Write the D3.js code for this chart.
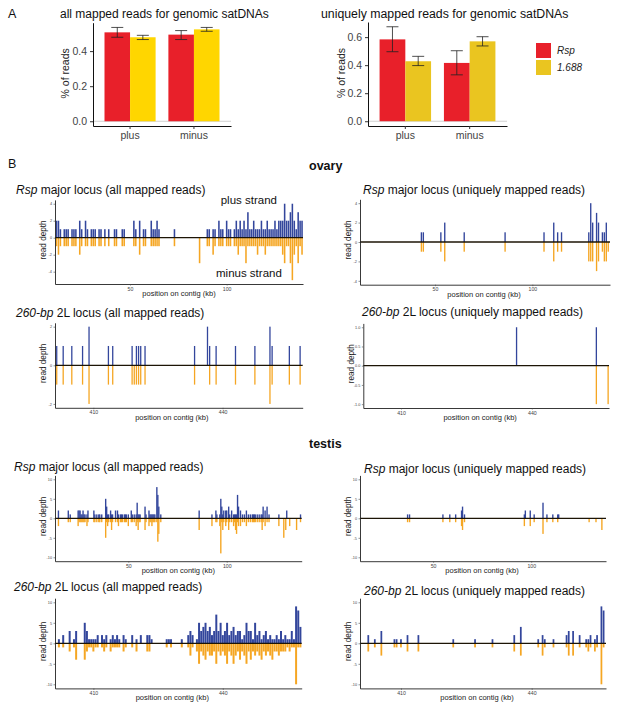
<!DOCTYPE html>
<html>
<head>
<meta charset="utf-8">
<script src="https://cdn.jsdelivr.net/npm/d3@7"></script>
<style>
body { margin: 0; background: #fff; }
</style>
</head>
<body>
<div id="chart-area"></div>
<script>
// ---- panel A data ----
var strands = ["plus", "minus"];
var satNames = ["Rsp", "1.688"];

var allRspMean = [0.507, 0.494];
var allRspLow = [0.479, 0.466];
var allRspHigh = [0.535, 0.517];
var all1688Mean = [0.479, 0.524];
var all1688Low = [0.466, 0.513];
var all1688High = [0.490, 0.535];

var uniqRspMean = [0.584, 0.416];
var uniqRspLow = [0.496, 0.331];
var uniqRspHigh = [0.674, 0.503];
var uniq1688Mean = [0.428, 0.570];
var uniq1688Low = [0.397, 0.537];
var uniq1688High = [0.463, 0.603];

var allPctTicks = [0, 0.2, 0.4];
var uniqPctTicks = [0, 0.2, 0.4, 0.6];

// ---- panel B tick values ----
var rspKbTicks = [50, 100];
var bp260KbTicks = [410, 440];
var ovaryRspDepthTicks = [-4, -2, 0, 2, 4];
var ovary260AllDepthTicks = [-2, 0, 2];
var ovary260UniqDepthTicks = [-1, -0.5, 0, 0.5, 1];
var testisDepthTicks = [-10, -5, 0, 5, 10];

// ---- panel B read depth (position in kb, plus strand, minus strand) ----
var ovRspAllPos = [12,13,14,16,17,18,20,21,22,24,25,27,28,30,31,32,34,35,37,39,42,43,46,47,52,53,55,57,58,61,62,63,64,65,73,86,90,91,93,94,96,97,98,100,101,102,
  104,105,106,107,108,109,110,111,112,113,114,115,116,117,118,119,120,121,122,123,124,125,126,127,128,129,130,131,132,133,134,135,136,137,138,139];
var ovRspAllPlus = [2,2,1,1,1,1,1,1,1,2,1,2,1,1,1,1,1,1,1,1,1,1,1,1,2,1,2,1,1,2,1,1,2,1,1,0,1,1,1,1,2,1,1,2,1,1,
  1,2,1,2,1,2,1,3,1,1,2,1,1,1,2,1,1,2,1,1,1,2,1,2,2,2,4,2,2,3,4,2,1,3,2,2];
var ovRspAllMinus = [-1,-2,-1,-1,-1,-1,-1,-1,-1,-2,-1,-1,-1,-1,-1,-1,-1,-1,-1,-1,-1,-1,-1,-1,-1,-1,-2,-1,-1,-1,-1,-1,-1,-1,-1,-3,-1,-1,-2,-1,-1,-1,-1,-1,-1,-1,
  -1,-1,-2,-1,-1,-1,-3,-1,-1,-1,-1,-1,-2,-1,-1,-1,-2,-1,-1,-1,-1,-1,-1,-1,-1,-2,-3,-1,-1,-3,-5,-2,-1,-3,-1,-2];

var ovRspUniqPos = [43,44,53,55,65,86,106,111,113,115,129,130,131,133,134,136,137,138,139];
var ovRspUniqPlus = [1,1,1,2,1,1,1,2,1,1,1,4,2,3,2,1,1,2,0];
var ovRspUniqMinus = [-1,-1,-1,-2,-1,-1,-1,-2,-1,-1,-2,-2,-2,-3,-2,-1,-2,-2,-1];

var ov260AllPos = [401.5,403,405,407.5,409,413.5,414.5,419,419.5,420,420.5,421,422,433.5,436.5,437,438.5,443,447.5,451,451.5,455.5,458];
var ov260AllPlus = [1,1,1,1,2,1,1,1,0,1,1,1,1,1,2,1,1,1,1,2,1,1,1];
var ov260AllMinus = [-1,-1,-1,-1,-2,-1,-1,-1,-1,-1,-1,-1,-1,-1,0,-1,-1,-1,-1,-2,-1,-1,-1];

var ov260UniqPos = [436.5, 454.8, 457.5];
var ov260UniqPlus = [1, 1, 0];
var ov260UniqMinus = [0, -1, -1];

var teRspAllPos = [14.5,19.5,20.5,24.5,25,25.5,26,26.5,27,27.5, 28,29,29.5,32.5,33,34,35,35.5,36.5,38.5,
  39,39.5,40,41,41.5,42,43.5,44.5,45,46, 46.5,47,48,48.5,49,50,51.5,52,53,54,
  54.5,55,55.5,56,58.5,59,60.5,61,61.5,62, 62.5,63,63.5,64.5,65,65.5,66.5,86,92.5,94.5,
  95,96.5,97,97.5,98,98.5,99.5,100,101,101.5, 102.5,103.5,104,104.5,105,105.5,106,107,108,109,
  110,111,112,113,113.5,114,114.5,115.5,116.5,117.5, 118,118.5,119.5,120.5,121.5,126.5,129,130,130.5,132,
  135.5,137.5];
var teRspAllPlus = [2,2,1,2,2,2,1,1,2,1, 1,1,2,2,1,1,1,1,1,5, 3,1,1,2,1,1,2,2,1,1, 1,1,1,1,1,1,2,1,1,1,
  4,1,1,1,3,1,2,1,1,1, 1,1,1,8,6,3,1,2,1,2, 1,1,5,3,1,2,2,2,3,1, 2,1,1,1,1,6,3,2,1,1,
  2,1,1,1,1,1,1,1,1,1, 1,3,2,3,1,1,0,0,2,0, 0,1];
var teRspAllMinus = [-2,-1,-1,-2,-1,-1,-1,-1,-1,-1, -1,-2,-1,-1,-1,-1,-1,-1,-1,-5, -1,-2,-1,-1,-3,-1,-1,-1,-2,-1,
  -1,-1,-1,-1,-1,-2,-1,-1,-1,-2, -1,-3,-1,-1,-3,-1,-2,-1,-1,-2, -1,-1,-1,-1,-6,-4,-1,-3,-2,-1,
  -1,-2,-9,-1,-3,-1,-2,-1,-3,-1, -1,-2,-1,-3,-4,-1,-2,-2,-1,-1, -2,-1,-1,-1,-1,-1,-1,-1,-1,-1,
  -3,-1,-2,-1,-1,-2,-5,-3,0,-2, -3,-1];

var teRspUniqPos = [37,38,55,58.5,61.5,64.5,65,66,96.5,97,99.5,101.5,106,108,111,113.5,114,129.5,133,136];
var teRspUniqPlus = [1,1,1,1,1,2,3,1,1,2,2,1,4,1,1,1,1,0,0,0];
var teRspUniqMinus = [-1,-1,-1,-1,-1,-2,-3,-1,-2,0,-2,-1,-4,-1,-1,-1,0,-1,-1,-3];

var te260AllPos = [402,403,404.5,405.5,406,408,408.5,409,409.5,410, 410.5,411,412,412.5,413,414,414.5,415,415.5,416,
  417,417.5,419,420,421,422.5,423,423.5,427,427.5, 428,430.5,432,432.5,433,434,434.5,435,435.5,436,
  436.5,437,437.5,438,438.5,439,439.5,440,440.5,441, 441.5,442,442.5,443,443.5,444,444.5,445,445.5,446,
  446.5,447,447.5,448,448.5,449,449.5,450,450.5,451, 451.5,452,452.5,453,453.5,454,454.5,455,455.5,456,
  456.5,457,457.5,458];
var te260AllPlus = [1,2,3,1,3,5,3,1,1,1, 1,2,2,1,2,1,2,1,2,1, 2,1,2,1,2,2,2,1,1,1, 1,1,2,3,2,1,5,3,4,5,
  3,4,2,3,7,3,5,2,3,5, 2,3,4,2,3,3,1,2,5,3, 3,1,5,2,3,1,2,3,1,2, 1,1,2,1,3,1,2,1,1,3, 1,9,8,4];
var te260AllMinus = [-1,-1,-2,-1,-4,-4,-2,-1,-1,-2, -1,-1,-1,-2,-1,-2,-1,-1,-1,-1, -2,-1,-1,-2,0,-2,-2,0,-1,0,
  -1,-1,-1,-3,-1,-2,-5,-2,-3,-4, -2,-3,-3,-2,-5,-2,-3,-2,-3,-5, -2,-3,-5,-3,-2,-4,-2,-3,-5,-2,
  -4,-2,-3,-2,-3,-4,-2,-3,-2,-3, -4,-2,-2,-3,-2,-2,-2,-1,-2,-1, -1,-10,-1,-1];

var te260UniqPos = [402.5,404,405.5,408.5,409,410,411.5,414,422,427,431,436,437.5,441.5,442.5,443,445,448,448.5,449.5,451,452.5,453,453.5,454.5,455,456,456.5];
var te260UniqPlus = [2,1,3,1,1,1,2,2,1,1,1,2,4,1,2,1,1,2,3,3,2,1,1,2,1,2,9,8];
var te260UniqMinus = [-2,-1,-3,-1,-1,-1,-2,-2,-1,-1,-1,-2,-3,-1,-3,-1,-1,-1,-3,-3,-1,-1,-2,-1,-2,-1,-10,-1];

// ---- styling ----
var FONT = "'Liberation Sans', Arial, Helvetica, sans-serif";
var red = "#E8202A";
var yellowAll = "#FFD600";
var yellowUniq = "#EAC520";
var plusBlue = "#33469C";
var minusOrange = "#F5A623";

var svg = d3.select("#chart-area").append("svg")
    .attr("width", 617)
    .attr("height", 705)
    .attr("font-family", FONT);

function label(x, y, txt, size, opts) {
    opts = opts || {};
    return svg.append("text")
        .attr("x", x).attr("y", y)
        .attr("font-size", size)
        .attr("font-weight", opts.bold ? "bold" : null)
        .attr("font-style", opts.italic ? "italic" : null)
        .attr("text-anchor", opts.anchor || "start")
        .attr("fill", opts.fill || "#111")
        .text(txt);
}

// ---------- Panel A ----------
function drawBarPanel(box, means, lows, highs, ticks, fills) {
    var x0 = d3.scaleBand().domain(strands).range([box.x0, box.x1])
        .paddingInner(0.2).paddingOuter(0.18);
    var x1 = d3.scaleBand().domain(satNames).range([0, x0.bandwidth()]);
    var y = d3.scaleLinear().domain(box.yDom).range([box.y1, box.y0]);

    var g = svg.append("g");

    //grey line at zero
    g.append("line")
        .attr("x1", box.x0).attr("x2", box.x1)
        .attr("y1", y(0)).attr("y2", y(0))
        .attr("stroke", "#c4c4c4").attr("stroke-width", 0.8);

    satNames.forEach(function (s, si) {
        var rows = strands.map(function (st, i) {
            return { strand: st, m: means[si][i], lo: lows[si][i], hi: highs[si][i] };
        });
        g.selectAll(null).data(rows).enter().append("rect")
            .attr("x", function (d) { return x0(d.strand) + x1(s); })
            .attr("y", function (d) { return y(d.m); })
            .attr("width", x1.bandwidth())
            .attr("height", function (d) { return y(0) - y(d.m); })
            .attr("fill", fills[si]);

        var eb = g.selectAll(null).data(rows).enter().append("g")
            .attr("stroke", "#222").attr("stroke-width", 0.8);
        var cx = function (d) { return x0(d.strand) + x1(s) + x1.bandwidth() / 2; };
        eb.append("line")
            .attr("x1", cx).attr("x2", cx)
            .attr("y1", function (d) { return y(d.lo); })
            .attr("y2", function (d) { return y(d.hi); });
        ["lo", "hi"].forEach(function (k) {
            eb.append("line")
                .attr("x1", function (d) { return cx(d) - 6; })
                .attr("x2", function (d) { return cx(d) + 6; })
                .attr("y1", function (d) { return y(d[k]); })
                .attr("y2", function (d) { return y(d[k]); });
        });
    });

    var yAx = g.append("g")
        .attr("transform", "translate(" + box.x0 + ",0)")
        .call(d3.axisLeft(y).tickValues(ticks).tickFormat(d3.format(".1f")).tickSize(3).tickSizeOuter(0));
    var xAx = g.append("g")
        .attr("transform", "translate(0," + box.y1 + ")")
        .call(d3.axisBottom(x0).tickSize(3).tickSizeOuter(0));
    [yAx, xAx].forEach(function (a) {
        a.attr("font-family", FONT).attr("font-size", 10.5);
        a.select(".domain").attr("stroke", "#111").attr("stroke-width", 1);
        a.selectAll(".tick line").attr("stroke", "#333");
        a.selectAll(".tick text").attr("fill", "#444");
    });

    svg.append("text")
        .attr("transform", "translate(" + box.ylabX + "," + ((box.y0 + box.y1) / 2 - 1) + ") rotate(-90)")
        .attr("text-anchor", "middle")
        .attr("font-size", 10.5)
        .attr("fill", "#222")
        .text("% of reads");
}

label(8, 17.5, "A", 12.5);
label(60, 17.5, "all mapped reads for genomic satDNAs", 12);
label(321, 17.5, "uniquely mapped reads for genomic satDNAs", 12.3);

drawBarPanel({ x0: 93, x1: 231, y0: 22.7, y1: 126, yDom: [-0.027, 0.562], ylabX: 68.6 },
    [allRspMean, all1688Mean], [allRspLow, all1688Low], [allRspHigh, all1688High],
    allPctTicks, [red, yellowAll]);
drawBarPanel({ x0: 368, x1: 507, y0: 22, y1: 126, yDom: [-0.034, 0.708], ylabX: 345.3 },
    [uniqRspMean, uniq1688Mean], [uniqRspLow, uniq1688Low], [uniqRspHigh, uniq1688High],
    uniqPctTicks, [red, yellowUniq]);

// legend
var legend = svg.append("g").attr("transform", "translate(536,43)");
legend.selectAll("rect").data(satNames).enter().append("rect")
    .attr("x", 0)
    .attr("y", function (d, i) { return i * 17; })
    .attr("width", 15).attr("height", 15)
    .attr("fill", function (d, i) { return [red, yellowUniq][i]; });
legend.selectAll("text").data(satNames).enter().append("text")
    .attr("x", 21)
    .attr("y", function (d, i) { return i * 17 + 11; })
    .attr("font-size", 10)
    .attr("font-style", "italic")
    .attr("fill", "#222")
    .text(function (d) { return d; });

// ---------- Panel B ----------
label(8, 167.5, "B", 12.5);
label(309, 169.5, "ovary", 12.5, { bold: true });
label(309, 447.5, "testis", 12.5, { bold: true });

var trackPanels = [
    { box: { x0: 55, x1: 303, y0: 199.9, y1: 284 }, xDom: [11.2, 139.5], yDom: [-5.45, 4.45],
      it: "Rsp", rest: " major locus (all mapped reads)", tx: 16, ty: 194,
      pos: ovRspAllPos, plus: ovRspAllPlus, minus: ovRspAllMinus,
      yTicks: ovaryRspDepthTicks, xTicks: rspKbTicks, barW: 0.8, xlabShift: 0 },
    { box: { x0: 360, x1: 610, y0: 199.3, y1: 284.7 }, xDom: [11.46, 139.9], yDom: [-4.4, 4.4],
      it: "Rsp", rest: " major locus (uniquely mapped reads)", tx: 363, ty: 194,
      pos: ovRspUniqPos, plus: ovRspUniqPlus, minus: ovRspUniqMinus,
      yTicks: ovaryRspDepthTicks, xTicks: rspKbTicks, barW: 0.7, xlabShift: -1 },
    { box: { x0: 55, x1: 302.7, y0: 322.8, y1: 407.8 }, xDom: [401.1, 458.6], yDom: [-2.2, 2.2],
      it: "260-bp", rest: " 2L locus (all mapped reads)", tx: 16, ty: 317,
      pos: ov260AllPos, plus: ov260AllPlus, minus: ov260AllMinus,
      yTicks: ovary260AllDepthTicks, xTicks: bp260KbTicks, barW: 0.3, xlabShift: -7 },
    { box: { x0: 363.3, x1: 609, y0: 323.4, y1: 408 }, xDom: [401.35, 457.7], yDom: [-1.1, 1.1],
      it: "260-bp", rest: " 2L locus (uniquely mapped reads)", tx: 362, ty: 315.7,
      pos: ov260UniqPos, plus: ov260UniqPlus, minus: ov260UniqMinus,
      yTicks: ovary260UniqDepthTicks, xTicks: bp260KbTicks, barW: 0.3, xlabShift: -6, dec: true },
    { box: { x0: 55, x1: 301.7, y0: 475.4, y1: 561.2 }, xDom: [12.75, 138.1], yDom: [-11, 11],
      it: "Rsp", rest: " major locus (all mapped reads)", tx: 14, ty: 470.7,
      pos: teRspAllPos, plus: teRspAllPlus, minus: teRspAllMinus,
      yTicks: testisDepthTicks, xTicks: rspKbTicks, barW: 0.7, xlabShift: 0 },
    { box: { x0: 360, x1: 606, y0: 475.4, y1: 561.2 }, xDom: [12.75, 138.1], yDom: [-11, 11],
      it: "Rsp", rest: " major locus (uniquely mapped reads)", tx: 364, ty: 473.3,
      pos: teRspUniqPos, plus: teRspUniqPlus, minus: teRspUniqMinus,
      yTicks: testisDepthTicks, xTicks: rspKbTicks, barW: 0.7, xlabShift: -1 },
    { box: { x0: 55, x1: 301.7, y0: 598.2, y1: 688.4 }, xDom: [401.1, 458.3], yDom: [-11, 11],
      it: "260-bp", rest: " 2L locus (all mapped reads)", tx: 14, ty: 590.7,
      pos: te260AllPos, plus: te260AllPlus, minus: te260AllMinus,
      yTicks: testisDepthTicks, xTicks: bp260KbTicks, barW: 0.46, xlabShift: -6 },
    { box: { x0: 360, x1: 606, y0: 598.2, y1: 688.4 }, xDom: [400.6, 457.05], yDom: [-11, 11],
      it: "260-bp", rest: " 2L locus (uniquely mapped reads)", tx: 364, ty: 594.7,
      pos: te260UniqPos, plus: te260UniqPlus, minus: te260UniqMinus,
      yTicks: testisDepthTicks, xTicks: bp260KbTicks, barW: 0.4, xlabShift: -6 }
];

function drawTrack(p) {
    var b = p.box;
    var x = d3.scaleLinear().domain(p.xDom).range([b.x0, b.x1]);
    var y = d3.scaleLinear().domain(p.yDom).range([b.y1, b.y0]);
    var bw = x(p.xDom[0] + p.barW) - x(p.xDom[0]);
    var rows = p.pos.map(function (d, i) { return { kb: d, plus: p.plus[i], minus: p.minus[i] }; });

    var g = svg.append("g");

    g.selectAll(".plus").data(rows.filter(function (d) { return d.plus > 0; }))
        .enter().append("rect")
        .attr("class", "plus")
        .attr("x", function (d) { return x(d.kb) - bw / 2; })
        .attr("y", function (d) { return y(d.plus); })
        .attr("width", bw)
        .attr("height", function (d) { return y(0) - y(d.plus); })
        .attr("fill", plusBlue);

    g.selectAll(".minus").data(rows.filter(function (d) { return d.minus < 0; }))
        .enter().append("rect")
        .attr("class", "minus")
        .attr("x", function (d) { return x(d.kb) - bw / 2; })
        .attr("y", y(0))
        .attr("width", bw)
        .attr("height", function (d) { return y(d.minus) - y(0); })
        .attr("fill", minusOrange);

    //zero line
    g.append("line")
        .attr("x1", b.x0).attr("x2", b.x1)
        .attr("y1", y(0)).attr("y2", y(0))
        .attr("stroke", "#1c1406").attr("stroke-width", 1.3);

    var fmt = p.dec ? function (d) { return d.toFixed(1); } : function (d) { return String(d); };
    var yAx = g.append("g")
        .attr("transform", "translate(" + b.x0 + ",0)")
        .call(d3.axisLeft(y).tickValues(p.yTicks).tickFormat(fmt).tickSize(1.5).tickPadding(1.5).tickSizeOuter(0));
    yAx.attr("font-family", FONT).attr("font-size", 3.8);
    var xAx = g.append("g")
        .attr("transform", "translate(0," + b.y1 + ")")
        .call(d3.axisBottom(x).tickValues(p.xTicks).tickSize(1.5).tickPadding(1.5).tickSizeOuter(0));
    xAx.attr("font-family", FONT).attr("font-size", 5.2);
    [yAx, xAx].forEach(function (a) {
        a.select(".domain").attr("stroke", "#222").attr("stroke-width", 0.9);
        a.selectAll(".tick line").attr("stroke", "#444").attr("stroke-width", 0.6);
        a.selectAll(".tick text").attr("fill", "#444");
    });

    //titles
    var t = svg.append("text").attr("x", p.tx).attr("y", p.ty)
        .attr("font-size", 12).attr("fill", "#111");
    t.append("tspan").attr("font-style", "italic").text(p.it);
    t.append("tspan").text(p.rest);

    svg.append("text")
        .attr("x", (b.x0 + b.x1) / 2 + p.xlabShift)
        .attr("y", b.y1 + 12)
        .attr("text-anchor", "middle")
        .attr("font-size", 7.5)
        .attr("fill", "#222")
        .text("position on contig (kb)");

    svg.append("text")
        .attr("transform", "translate(" + (b.x0 - 9.3) + "," + ((b.y0 + b.y1) / 2 - 2) + ") rotate(-90)")
        .attr("text-anchor", "middle")
        .attr("font-size", 8.2)
        .attr("fill", "#222")
        .text("read depth");
}

trackPanels.forEach(drawTrack);

// strand annotations on first track
label(220.7, 204, "plus strand", 11.5);
label(216, 276.5, "minus strand", 11.5);
</script>
</body>
</html>
